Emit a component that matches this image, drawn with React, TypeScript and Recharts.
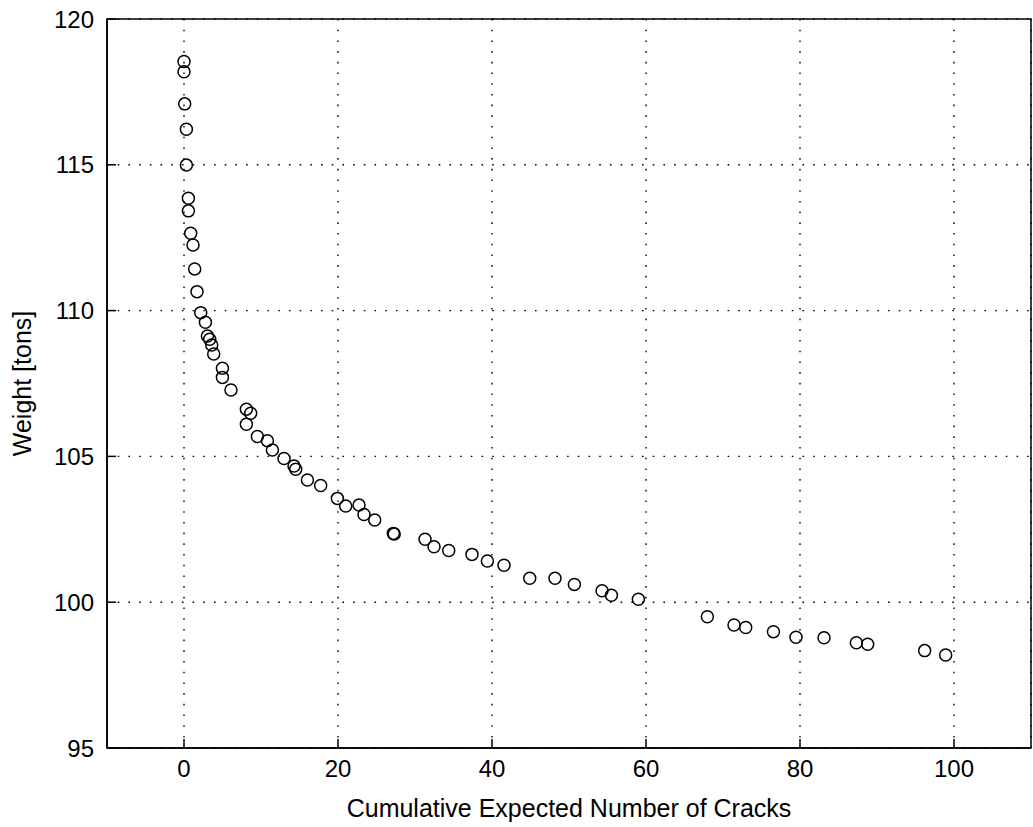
import React from "react";
import { ScatterChart, Scatter, XAxis, YAxis, CartesianGrid, ReferenceArea } from "recharts";

const crackCounts: number[] = [
  0.0, 0.0, 0.09, 0.31, 0.31, 0.57, 0.57, 0.87, 1.17, 1.39,
  1.69, 2.17, 2.78, 3.04, 3.34, 3.6, 3.86, 4.99, 4.99, 6.1,
  8.1, 8.66, 8.1, 9.53, 10.83, 11.48, 12.99, 14.29, 14.51, 16.03,
  17.75, 19.92, 21.0, 22.73, 23.38, 24.77, 27.19, 27.3, 31.3, 32.47,
  34.38, 37.4, 39.4, 41.56, 44.9, 48.18, 50.7, 54.29, 55.51, 59.01,
  67.97, 71.43, 72.95, 76.55, 79.48, 83.12, 87.32, 88.79, 96.19, 98.92,
];

const weights: number[] = [
  118.54, 118.19, 117.09, 116.22, 114.99, 113.85, 113.42, 112.65, 112.25, 111.43,
  110.65, 109.93, 109.6, 109.13, 109.02, 108.82, 108.51, 108.02, 107.71, 107.28,
  106.62, 106.48, 106.1, 105.68, 105.54, 105.22, 104.93, 104.67, 104.56, 104.19,
  104.0, 103.56, 103.3, 103.33, 103.01, 102.82, 102.36, 102.34, 102.16, 101.9,
  101.77, 101.64, 101.41, 101.27, 100.82, 100.82, 100.61, 100.39, 100.24, 100.1,
  99.5, 99.22, 99.13, 98.99, 98.8, 98.78, 98.61, 98.56, 98.34, 98.19,
];

const xTicks: number[] = [0, 20, 40, 60, 80, 100];
const yTicks: number[] = [95, 100, 105, 110, 115, 120];
const xDomain: [number, number] = [-10, 110];
const yDomain: [number, number] = [95, 120];

const xLabel = "Cumulative Expected Number of Cracks";
const yLabel = "Weight [tons]";

const data = crackCounts.map((x, i) => ({ x, y: weights[i] }));

const FONT = "'Liberation Sans', Arial, sans-serif";
const TICK_LEN = 9;
const X_MARGIN = 12;
const Y_MARGIN = 13;

const BottomTick = (props: any) => {
  const { x, y, payload } = props;
  const ay = y - X_MARGIN;
  return (
    <g>
      <line x1={x} x2={x} y1={ay} y2={ay - TICK_LEN} stroke="#000" strokeWidth={1.5} />
      <text x={x} y={y} dy="0.71em" textAnchor="middle" fontFamily={FONT} fontSize={24} fill="#000">
        {payload.value}
      </text>
    </g>
  );
};

const LeftTick = (props: any) => {
  const { x, y, payload } = props;
  const ax = x + Y_MARGIN;
  return (
    <g>
      <line x1={ax} x2={ax + TICK_LEN} y1={y} y2={y} stroke="#000" strokeWidth={1.5} />
      <text x={x} y={y} dy="0.355em" textAnchor="end" fontFamily={FONT} fontSize={24} fill="#000">
        {payload.value}
      </text>
    </g>
  );
};

const TopTick = (props: any) => {
  const { x, y } = props;
  return <line x1={x} x2={x} y1={y} y2={y + TICK_LEN} stroke="#000" strokeWidth={1.5} />;
};

const RightTick = (props: any) => {
  const { x, y } = props;
  return <line x1={x} x2={x - TICK_LEN} y1={y} y2={y} stroke="#000" strokeWidth={1.5} />;
};

const YLabel = (props: any) => {
  const vb = props.viewBox || { x: 0, y: 19, width: 107, height: 729 };
  const cx = vb.x + 22;
  const cy = vb.y + vb.height / 2;
  return (
    <text
      x={cx}
      y={cy}
      transform={`rotate(-90 ${cx} ${cy})`}
      textAnchor="middle"
      dy="0.355em"
      fontFamily={FONT}
      fontSize={25}
      fill="#000"
    >
      {yLabel}
    </text>
  );
};

const XLabel = (props: any) => {
  const vb = props.viewBox || { x: 107, y: 748, width: 924, height: 79 };
  const cx = vb.x + vb.width / 2;
  const cy = vb.y + vb.height - 10;
  return (
    <text x={cx} y={cy} textAnchor="middle" fontFamily={FONT} fontSize={25} fill="#000">
      {xLabel}
    </text>
  );
};

const Ring = (props: any) => {
  const { cx, cy } = props;
  return <circle cx={cx} cy={cy} r={6} fill="none" stroke="#000" strokeWidth={1.5} />;
};

const Nothing = () => <g />;

export default function App() {
  return (
    <div style={{ position: "absolute", left: 0, top: 0, width: 1033, height: 827, background: "#fff" }}>
      <ScatterChart width={1033} height={827} margin={{ top: 19, right: 2, bottom: 0, left: 0 }}>
        <CartesianGrid stroke="#000" strokeDasharray="1.6 9.1" strokeWidth={1.4} />
        <XAxis
          xAxisId={0}
          dataKey="x"
          type="number"
          domain={xDomain}
          ticks={xTicks}
          allowDataOverflow
          height={79}
          tickSize={0}
          tickMargin={X_MARGIN}
          tickLine={false}
          axisLine={{ stroke: "#000", strokeWidth: 1.5 }}
          tick={<BottomTick />}
          label={<XLabel />}
        />
        <XAxis
          xAxisId="top"
          orientation="top"
          dataKey="x"
          type="number"
          domain={xDomain}
          ticks={xTicks}
          allowDataOverflow
          height={0}
          tickSize={0}
          tickMargin={0}
          tickLine={false}
          axisLine={{ stroke: "#000", strokeWidth: 1.5 }}
          tick={<TopTick />}
        />
        <YAxis
          yAxisId={0}
          dataKey="y"
          type="number"
          domain={yDomain}
          ticks={yTicks}
          allowDataOverflow
          width={107}
          tickSize={0}
          tickMargin={Y_MARGIN}
          tickLine={false}
          axisLine={{ stroke: "#000", strokeWidth: 1.5 }}
          tick={<LeftTick />}
          label={<YLabel />}
        />
        <YAxis
          yAxisId="right"
          orientation="right"
          dataKey="y"
          type="number"
          domain={yDomain}
          ticks={yTicks}
          allowDataOverflow
          width={0}
          tickSize={0}
          tickMargin={0}
          tickLine={false}
          axisLine={{ stroke: "#000", strokeWidth: 1.5 }}
          tick={<RightTick />}
        />
        <ReferenceArea
          xAxisId={0}
          yAxisId={0}
          x1={xDomain[0]}
          x2={xDomain[1]}
          y1={yDomain[0]}
          y2={yDomain[1]}
          fill="none"
          stroke="#000"
          strokeWidth={1.5}
          ifOverflow="visible"
        />
        <Scatter
          data={data}
          xAxisId="top"
          yAxisId="right"
          shape={<Nothing />}
          isAnimationActive={false}
        />
        <Scatter
          data={data}
          xAxisId={0}
          yAxisId={0}
          shape={<Ring />}
          isAnimationActive={false}
        />
      </ScatterChart>
    </div>
  );
}
